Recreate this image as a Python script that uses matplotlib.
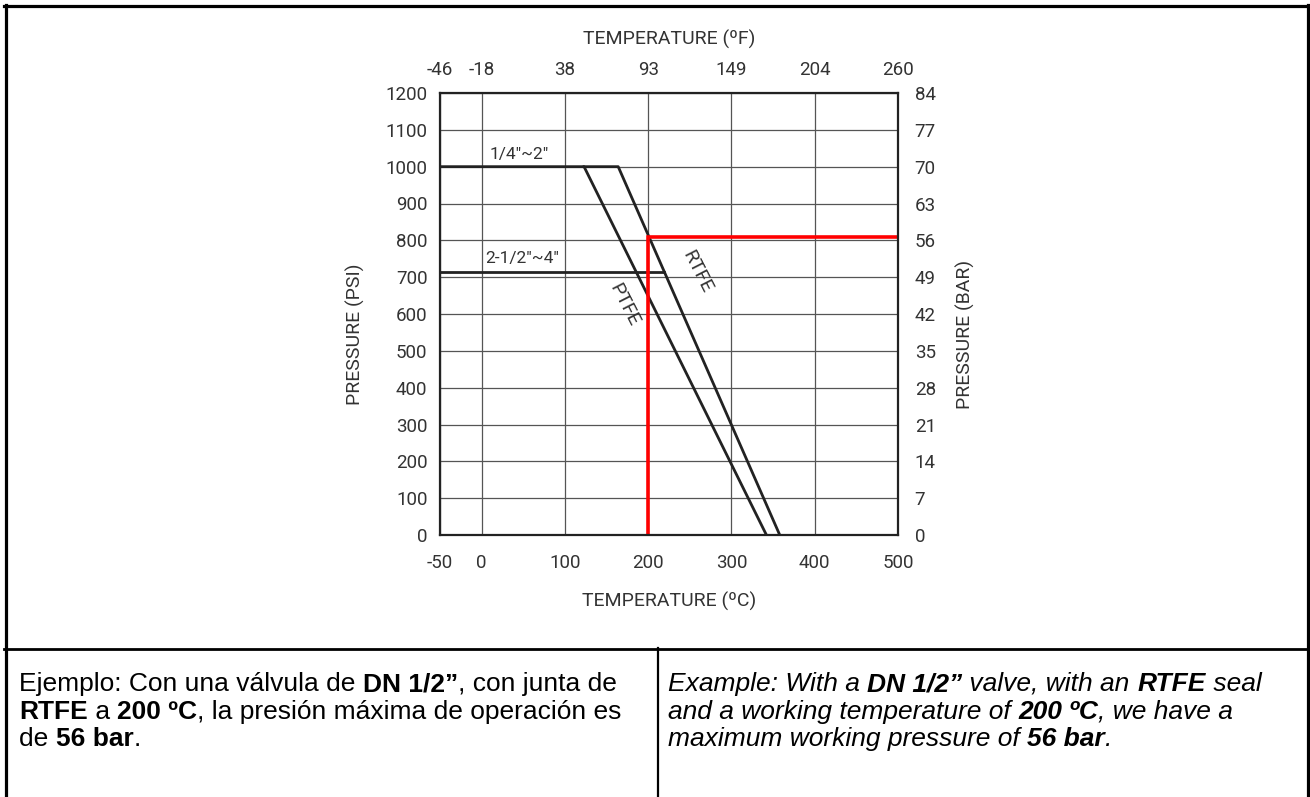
import matplotlib
matplotlib.use("Agg")
import matplotlib.pyplot as plt
from matplotlib.lines import Line2D
from matplotlib.font_manager import FontProperties

plt.rcParams['font.family'] = ['Roboto', 'DejaVu Sans']
plt.rcParams['axes.unicode_minus'] = False

# --- data ---
temp_c_ticks = [-50, 0, 100, 200, 300, 400, 500]
temp_f_labels = ["-46", "-18", "38", "93", "149", "204", "260"]
psi_ticks = list(range(0, 1201, 100))
bar_ticks = list(range(0, 85, 7))

# 1/4"~2" sizes, PTFE seat
ptfe_temp = [-50, 123, 342]
ptfe_psi = [1000, 1000, 0]
# RTFE seat
rtfe_temp = [123, 164, 358]
rtfe_psi = [1000, 1000, 0]
# 2-1/2"~4" sizes
large_temp = [-50, 219]
large_psi = [715, 715]
# worked example: RTFE at 200 ºC
example_temp = [200, 200, 500]
example_psi = [0, 810, 810]

W, H = 1310, 797
fig = plt.figure(figsize=(W / 100, H / 100), dpi=100)
fig.patch.set_facecolor("white")

def px(x, y):
    return x / W, 1 - y / H

txt_col = "#333333"
line_col = "#222222"

ax = fig.add_axes([440 / W, 1 - 535 / H, 458 / W, 442 / H])
ax.set_xlim(-50, 500)
ax.set_ylim(0, 1200)
ax.set_xticks(temp_c_ticks)
ax.set_yticks(psi_ticks)
ax.grid(True, color="#555555", lw=0.9)
ax.set_axisbelow(True)
ax.tick_params(length=0, labelsize=13.5, colors=txt_col)
ax.tick_params(axis="x", pad=14)
ax.tick_params(axis="y", pad=9)
for s in ax.spines.values():
    s.set_linewidth(1.6)
    s.set_color(line_col)

ax2 = ax.twinx()
ax2.set_ylim(0, 84)
ax2.set_yticks(bar_ticks)
ax2.tick_params(length=0, labelsize=13.5, colors=txt_col, pad=12)

ax3 = ax.twiny()
ax3.set_xlim(-50, 500)
ax3.set_xticks(temp_c_ticks)
ax3.set_xticklabels(temp_f_labels)
ax3.tick_params(length=0, labelsize=13.5, colors=txt_col, pad=10)
for a in (ax2, ax3):
    for s in a.spines.values():
        s.set_visible(False)

ax.plot(ptfe_temp, ptfe_psi, color=line_col, lw=2)
ax.plot(rtfe_temp, rtfe_psi, color=line_col, lw=2)
ax.plot(large_temp, large_psi, color=line_col, lw=2)
ax.plot(example_temp, example_psi, color="red", lw=2.6, solid_joinstyle="miter")

ax.text(10, 1034, "1/4\"~2\"", fontsize=12.5, color=txt_col, ha="left", va="center")
ax.text(4, 752, "2-1/2\"~4\"", fontsize=12.5, color=txt_col, ha="left", va="center")
ax.text(259, 714, "RTFE", fontsize=14, color=txt_col, rotation=-63, ha="center", va="center")
ax.text(171, 625, "PTFE", fontsize=14, color=txt_col, rotation=-63, ha="center", va="center")

fig.text(*px(669, 39), "TEMPERATURE (ºF)", fontsize=14, color=txt_col, ha="center", va="center")
fig.text(*px(669, 601), "TEMPERATURE (ºC)", fontsize=14, color=txt_col, ha="center", va="center")
fig.text(*px(355, 334), "PRESSURE (PSI)", fontsize=14, color=txt_col, ha="center", va="center", rotation=90)
fig.text(*px(965, 334), "PRESSURE (BAR)", fontsize=14, color=txt_col, ha="center", va="center", rotation=90)

# table borders
def hline(y, x0, x1, lw):
    fig.add_artist(Line2D([x0 / W, x1 / W], [1 - y / H, 1 - y / H], color="black", lw=lw))

def vline(x, y0, y1, lw):
    fig.add_artist(Line2D([x / W, x / W], [1 - y0 / H, 1 - y1 / H], color="black", lw=lw))

hline(6, 4, 1309, 2.3)
vline(5.5, 4.5, 797, 2.3)
vline(1307.5, 4.5, 797, 2.3)
hline(648.5, 4, 1309, 2)
vline(657.5, 648, 797, 1.6)

# rich text rows in the bottom cells
renderer = fig.canvas.get_renderer()

def text_width(s, prop):
    w1, _, _ = renderer.get_text_width_height_descent("|" + s + "|", prop, ismath=False)
    w0, _, _ = renderer.get_text_width_height_descent("||", prop, ismath=False)
    return w1 - w0

def rich_line(x, y, parts, style, size=19):
    for s, bold in parts:
        prop = FontProperties(family="Liberation Sans", size=size, style=style,
                              weight="bold" if bold else "normal")
        fig.text(*px(x, y), s, fontproperties=prop, color="black", ha="left", va="baseline")
        x += text_width(s, prop)

left_lines = [
    [("Ejemplo: Con una válvula de ", False), ("DN 1/2\u201d", True), (", con junta de", False)],
    [("RTFE", True), (" a ", False), ("200 ºC", True), (", la presión máxima de operación es", False)],
    [("de ", False), ("56 bar", True), (".", False)],
]
right_lines = [
    [("Example: With a ", False), ("DN 1/2\u201d", True), (" valve, with an ", False), ("RTFE", True), (" seal", False)],
    [("and a working temperature of ", False), ("200 ºC", True), (", we have a", False)],
    [("maximum working pressure of ", False), ("56 bar", True), (".", False)],
]
baselines = [691, 719, 746]
for yb, parts in zip(baselines, left_lines):
    rich_line(19, yb, parts, "normal")
for yb, parts in zip(baselines, right_lines):
    rich_line(668, yb, parts, "italic")

fig.savefig("out.png", dpi=100)
